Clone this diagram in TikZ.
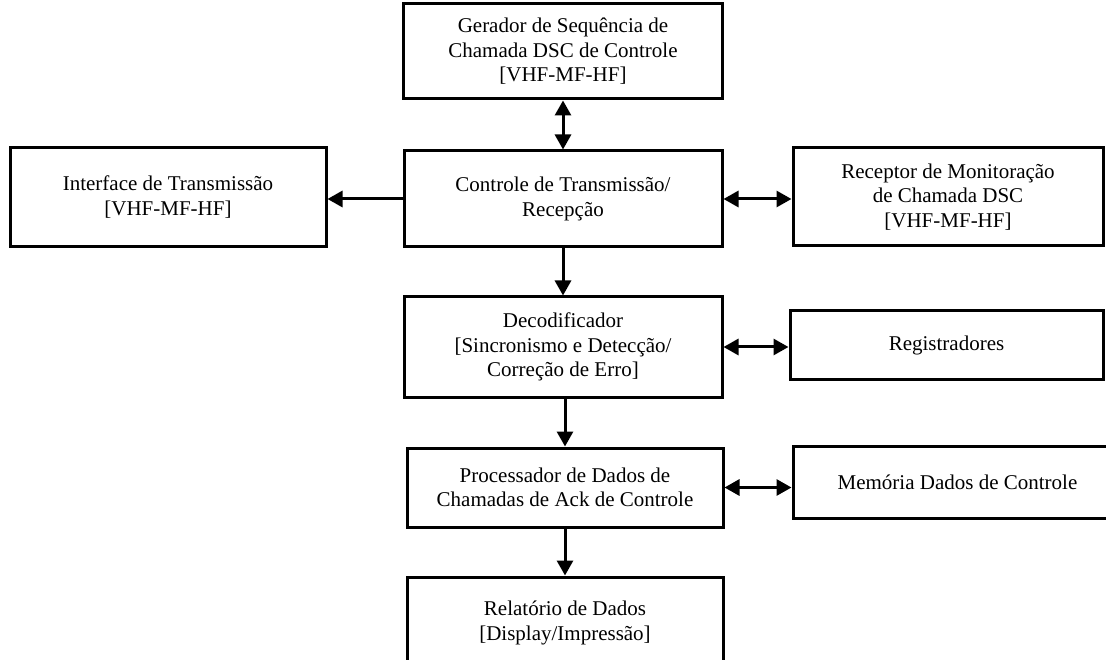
\documentclass[tikz,border=0pt]{standalone}
\usepackage{fontspec}
\setmainfont{Liberation Serif}
\usetikzlibrary{arrows.meta}
\begin{document}
\begin{tikzpicture}[x=1pt,y=-1pt,
  blk/.style={draw, line width=3pt, rectangle, align=center, inner sep=0pt,
    font=\fontsize{21}{24.5}\selectfont},
  >={Triangle[length=15pt,width=16pt]},
  arr/.style={line width=3pt, ->},
  darr/.style={line width=3pt, <->}]
\useasboundingbox (0,0) rectangle (1106,660);
\begin{scope}
\clip (0,0) rectangle (1106,660);
% central column
\node[blk, minimum width=319pt, minimum height=95pt] (gen) at (563,51.5)
  {Gerador de Sequência de\\Chamada DSC de Controle\\{}[VHF-MF-HF]};
\node[blk, minimum width=318pt, minimum height=96pt] (ctrl) at (563,199)
  {Controle de Transmissão/\\Recepção};
\node[blk, minimum width=318pt, minimum height=100pt] (dec) at (563,347)
  {Decodificador\\{}[Sincronismo e Detecção/\\Correção de Erro]};
\node[blk, minimum width=316pt, minimum height=79pt] (proc) at (565,487.5)
  {Processador de Dados de\\Chamadas de Ack de Controle};
\node[blk, minimum width=316pt, minimum height=92pt] (rel) at (565,623)
  {Relatório de Dados\\{}[Display/Impressão]};
% side blocks
\node[blk, minimum width=316pt, minimum height=99pt] (iface) at (168,197)
  {Interface de Transmissão\\{}[VHF-MF-HF]};
\node[blk, minimum width=310pt, minimum height=98pt] (recv) at (948,197)
  {Receptor de Monitoração\\de Chamada DSC\\{}[VHF-MF-HF]};
\node[blk, minimum width=313pt, minimum height=69pt] (reg) at (946.5,345)
  {Registradores};
\node[blk, minimum width=329pt, minimum height=72pt] (mem) at (957.5,482)
  {Memória Dados de Controle};
% connectors
\draw[darr] (gen.south) -- (ctrl.north);
\draw[arr] (ctrl.west) -- (ctrl.west -| iface.east);
\draw[darr] (ctrl.east) -- (ctrl.east -| recv.west);
\draw[arr] (ctrl.south) -- (dec.north);
\draw[darr] (dec.east) -- (dec.east -| reg.west);
\draw[arr] (dec.south -| proc.north) -- (proc.north);
\draw[darr] (proc.east) -- (proc.east -| mem.west);
\draw[arr] (proc.south) -- (rel.north);
\end{scope}
\end{tikzpicture}
\end{document}
